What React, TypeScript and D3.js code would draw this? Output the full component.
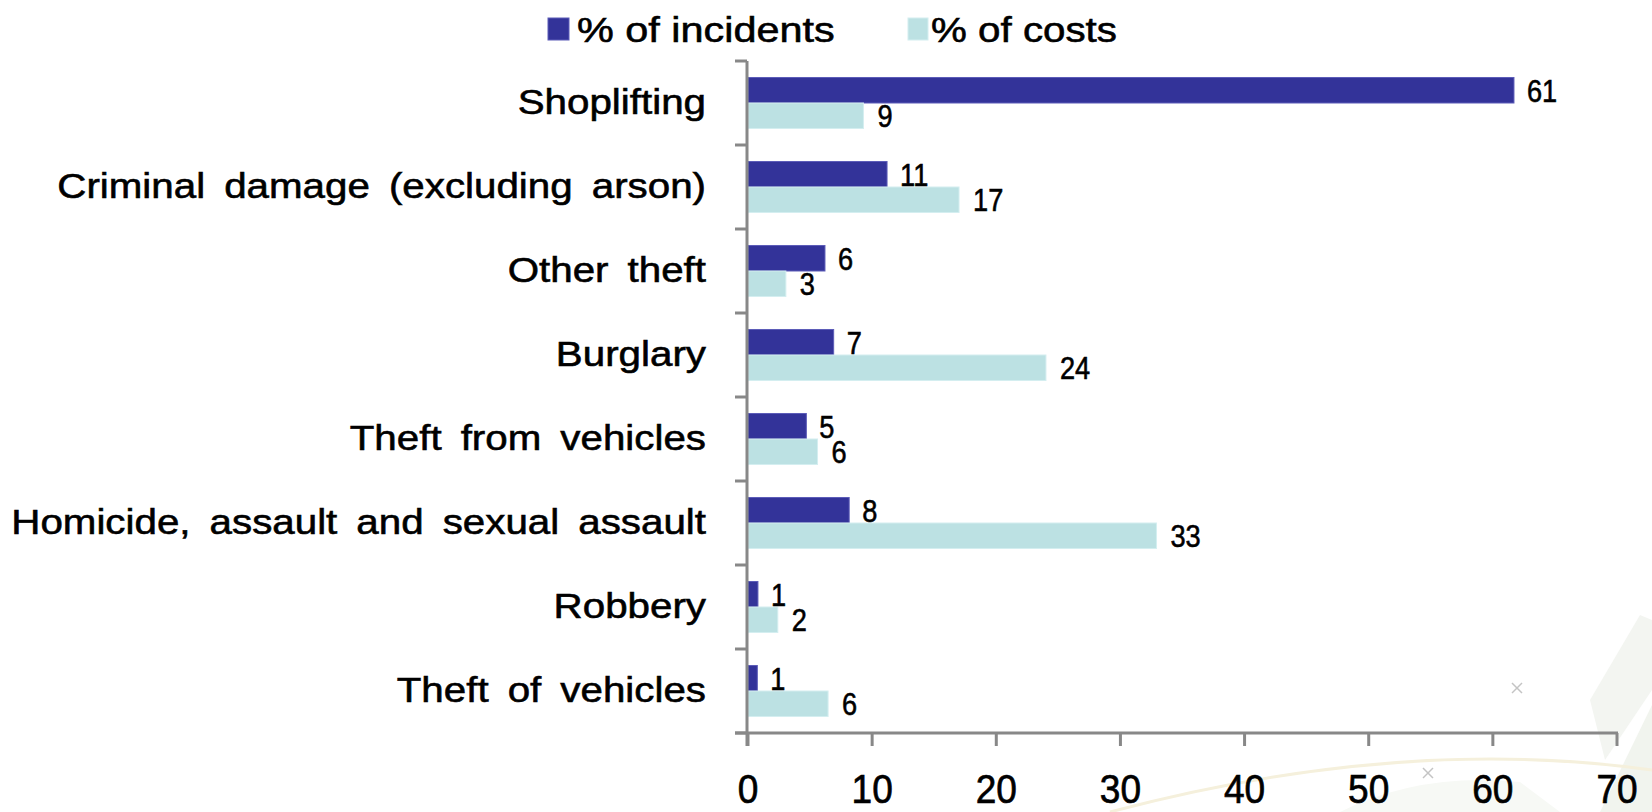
import React from "react";
import * as d3 from "d3";

const categories = [
  "Shoplifting",
  "Criminal damage (excluding arson)",
  "Other theft",
  "Burglary",
  "Theft from vehicles",
  "Homicide, assault and sexual assault",
  "Robbery",
  "Theft of vehicles",
];
const incidents = [61.7, 11.2, 6.2, 6.9, 4.7, 8.15, 0.8, 0.75];
const costs = [9.3, 17.0, 3.05, 24.0, 5.6, 32.9, 2.4, 6.45];
const incidentLabels = ["61", "11", "6", "7", "5", "8", "1", "1"];
const costLabels = ["9", "17", "3", "24", "6", "33", "2", "6"];
const xTicks = [0, 10, 20, 30, 40, 50, 60, 70];
const seriesNames = ["% of incidents", "% of costs"];
const seriesColors = ["#333399", "#bce1e3"];
const seriesStrokes = ["#5c5cb8", "#d4eef0"];

const W = 1652;
const H = 812;
const FONT = "'Liberation Sans', Arial, Helvetica, sans-serif";
const AXIS = "#888888";

function T(props: any) {
  const { x, y, sx = 1, sy = 1, anchor = "start", size, ws = 0, children } = props;
  return (
    <text
      transform={`translate(${x},${y}) scale(${sx},${sy})`}
      textAnchor={anchor}
      fontSize={size}
      fontFamily={FONT}
      fill="#000"
      stroke="#000"
      strokeWidth={0.6}
      style={{ wordSpacing: ws }}
    >
      {children}
    </text>
  );
}

export default function App() {
  const x = d3.scaleLinear().domain([0, 70]).range([748, 1617]);
  const y = d3.scaleBand<string>().domain(categories).range([61, 733]).padding(0);
  const inner = d3
    .scaleBand<string>()
    .domain(["inc", "cost"])
    .range([0, y.bandwidth()])
    .paddingInner(0)
    .paddingOuter(0.647);

  const boundaries = categories.map((c) => y(c) as number).concat([733]);

  return (
    <svg
      width={W}
      height={H}
      style={{ position: "absolute", left: 0, top: 0, background: "#fff" }}
    >
      {/* faint slide background decorations */}
      <g>
        <path d="M 1600 812 L 1652 705 L 1652 812 Z" fill="#f1f4ee" />
        <path d="M 1590 700 L 1640 615 L 1652 620 L 1652 690 L 1605 760 Z" fill="#f3f5f1" />
        <path d="M 1110 812 Q 1400 735 1652 770" fill="none" stroke="#f5f0dc" strokeWidth={3} />
        <path d="M 1340 812 Q 1420 772 1520 782 L 1560 812 Z" fill="#f7f9f5" />
      </g>
      {[
        [1517, 688],
        [1428, 773],
      ].map(([cx, cy], i) => (
        <g key={i} stroke="#c4c4c4" strokeWidth={1.5}>
          <line x1={cx - 5} y1={cy - 5} x2={cx + 5} y2={cy + 5} />
          <line x1={cx - 5} y1={cy + 5} x2={cx + 5} y2={cy - 5} />
        </g>
      ))}

      {/* legend */}
      <rect x={548} y={18} width={21} height={22} fill={seriesColors[0]} stroke={seriesStrokes[0]} />
      <T x={577} y={42} size={36} sx={1.15}>{seriesNames[0]}</T>
      <rect x={908} y={18} width={20} height={22} fill={seriesColors[1]} stroke={seriesStrokes[1]} />
      <T x={931} y={42} size={36} sx={1.12}>{seriesNames[1]}</T>

      {/* bars */}
      {categories.map((c, i) => {
        const top = y(c) as number;
        const yi = top + (inner("inc") as number);
        const yc = top + (inner("cost") as number);
        const bh = inner.bandwidth();
        return (
          <g key={c}>
            <rect
              x={x(0)}
              y={yi}
              width={x(incidents[i]) - x(0)}
              height={bh}
              fill={seriesColors[0]}
              stroke={seriesStrokes[0]}
              strokeWidth={1}
            />
            <rect
              x={x(0)}
              y={yc}
              width={x(costs[i]) - x(0)}
              height={bh}
              fill={seriesColors[1]}
              stroke={seriesStrokes[1]}
              strokeWidth={1}
            />
            <T x={x(incidents[i]) + 13} y={yi + bh / 2 + 11.5} size={32} sx={0.85}>
              {incidentLabels[i]}
            </T>
            <T x={x(costs[i]) + 14} y={yc + bh / 2 + 11.5} size={32} sx={0.85}>
              {costLabels[i]}
            </T>
            <T x={706} y={top + y.bandwidth() / 2 + 11} size={36} sx={1.12} ws={7} anchor="end">
              {c}
            </T>
          </g>
        );
      })}

      {/* y axis */}
      <line x1={747} y1={61} x2={747} y2={746} stroke={AXIS} strokeWidth={3} />
      {boundaries.map((b, i) => (
        <line key={i} x1={735} y1={b} x2={747} y2={b} stroke={AXIS} strokeWidth={3} />
      ))}

      {/* x axis */}
      <line x1={735} y1={733} x2={1618} y2={733} stroke={AXIS} strokeWidth={3} />
      {xTicks.map((t) => (
        <g key={t}>
          <line x1={x(t)} y1={733} x2={x(t)} y2={746} stroke={AXIS} strokeWidth={3} />
          <T x={x(t)} y={803} size={36} sx={1.03} sy={1.12} anchor="middle">
            {t}
          </T>
        </g>
      ))}
    </svg>
  );
}
